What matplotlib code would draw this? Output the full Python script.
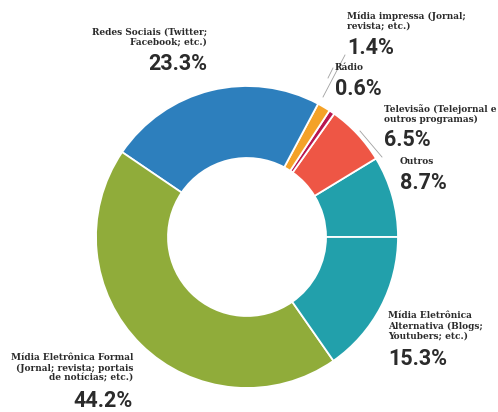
import matplotlib
matplotlib.use("Agg")
import matplotlib.pyplot as plt

# Data (counter-clockwise from 3 o'clock)
categories = ["Outros", "Televisão (Telejornal e\noutros programas)", "Rádio",
              "Mídia impressa (Jornal;\nrevista; etc.)", "Redes Sociais (Twitter;\nFacebook; etc.)",
              "Mídia Eletrônica Formal\n(Jornal; revista; portais\nde notícias; etc.)",
              "Mídia Eletrônica\nAlternativa (Blogs;\nYoutubers; etc.)"]
values = [8.7, 6.5, 0.6, 1.4, 23.3, 44.2, 15.3]
pct_labels = ["8.7%", "6.5%", "0.6%", "1.4%", "23.3%", "44.2%", "15.3%"]
colors = ["#22a0ab", "#ee5645", "#b8174f", "#f4a228", "#2d7fbd", "#90ac3a", "#22a0ab"]

W, H = 498, 412
fig = plt.figure(figsize=(W / 100, H / 100), dpi=100)
ax = fig.add_axes([0, 0, 1, 1])

cx, cy, R = 247, H - 237, 151
ax.pie(values, colors=colors, startangle=0, counterclock=True,
       center=(cx, cy), radius=R,
       wedgeprops=dict(width=R - 79, edgecolor="white", linewidth=1.3))
ax.set_xlim(0, W)
ax.set_ylim(0, H)
ax.set_aspect("equal")
ax.axis("off")

serif = ["DejaVu Serif"]
sans = ["Roboto", "DejaVu Sans"]
tc = "#2b2b2b"
lab_fs = 6.5
pct_fs = 15.5

# (label index, x, y_label_top, y_pct_center, ha)
placements = {
    4: (207, 27, 64, "right"),
    3: (347, 11, 48, "left"),
    2: (335, 63, 89, "left"),
    1: (384, 104, 140, "left"),
    0: (400, 157, 183, "left"),
    6: (388, 311, 359, "left"),
    5: (133, 353, 401, "right"),
}
for i, (x, ytop, ypct, ha) in placements.items():
    ax.text(x, H - ytop, categories[i], ha=ha, va="top", fontsize=lab_fs,
            fontweight="bold", family=serif, color=tc, linespacing=1.2,
            multialignment=ha)
    ax.text(x, H - ypct, pct_labels[i], ha=ha, va="center", fontsize=pct_fs,
            fontweight="bold", family=sans, color=tc)

# leader lines
lc = "#a0a0a0"
ax.plot([345, 323], [H - 55, H - 97], color=lc, lw=0.6)
ax.plot([333, 328], [H - 68, H - 78], color=lc, lw=0.6)
ax.plot([360, 382], [H - 131, H - 157], color=lc, lw=0.6)

fig.savefig("out.png", dpi=100)
